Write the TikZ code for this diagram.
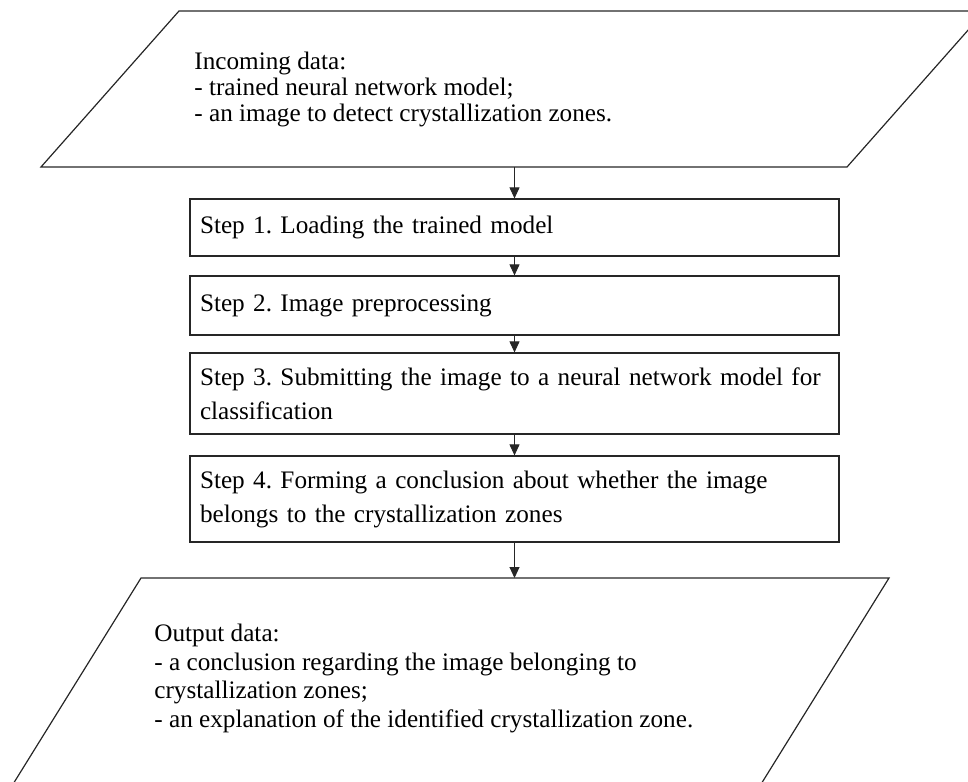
\documentclass[tikz,border=0pt]{standalone}
\usepackage{fontspec}
\setmainfont{Liberation Serif}
\usetikzlibrary{arrows.meta,positioning}

\tikzset{
	stepbox/.style={draw=black!85, line width=0.6pt, minimum width=324.5pt,
		text width=314.5pt, inner xsep=5pt, align=left,
		font=\fontsize{12.6}{17}\selectfont},
	datatext/.style={inner sep=0pt, align=left, anchor=north west},
	flow/.style={draw=black!85, line width=0.5pt,
		-{Triangle[length=5.5pt,width=5pt]}},
	datashape/.style={draw=black!85, line width=0.6pt}
}

\begin{document}
\frenchspacing
\begin{tikzpicture}[x=0.5pt,y=-0.5pt]
	\useasboundingbox (0,0) rectangle (968,781);
	\clip (0,0) rectangle (968,781);

	% incoming data
	\draw[datashape] (179,11) -- (985,11) -- (847,167) -- (41,167) -- cycle;
	\node[datatext, font=\fontsize{12.6}{13}\selectfont] (intext) at (194,52)
		{Incoming data:\\- trained neural network model;\\- an image to detect crystallization zones.};
	\coordinate (inbot) at (514.5,167);

	% steps
	\node[stepbox, minimum height=28.5pt] (s1) at (514.5,227.5) {Step 1. Loading the trained model};
	\node[stepbox, minimum height=29.5pt] (s2) at (514.5,305.5) {Step 2. Image preprocessing};
	\node[stepbox, minimum height=40.5pt] (s3) at (514.5,393.5)
		{\mbox{Step 3. Submitting the image to a neural network model for}\\classification};
	\node[stepbox, minimum height=43pt] (s4) at (514.5,499)
		{Step 4. Forming a conclusion about whether the image\\belongs to the crystallization zones};

	% output data
	\draw[datashape] (141,578) -- (889,578) -- (740,818) -- (-8,818) -- cycle;
	\coordinate (outtop) at (514.5,578);
	\node[datatext, font=\fontsize{12.6}{14.2}\selectfont] (outtext) at (154,624)
		{Output data:\\- a conclusion regarding the image belonging to\\crystallization zones;\\- an explanation of the identified crystallization zone.};

	\draw[flow] (inbot) -- (s1);
	\draw[flow] (s1) -- (s2);
	\draw[flow] (s2) -- (s3);
	\draw[flow] (s3) -- (s4);
	\draw[flow] (s4) -- (outtop);
\end{tikzpicture}
\end{document}
